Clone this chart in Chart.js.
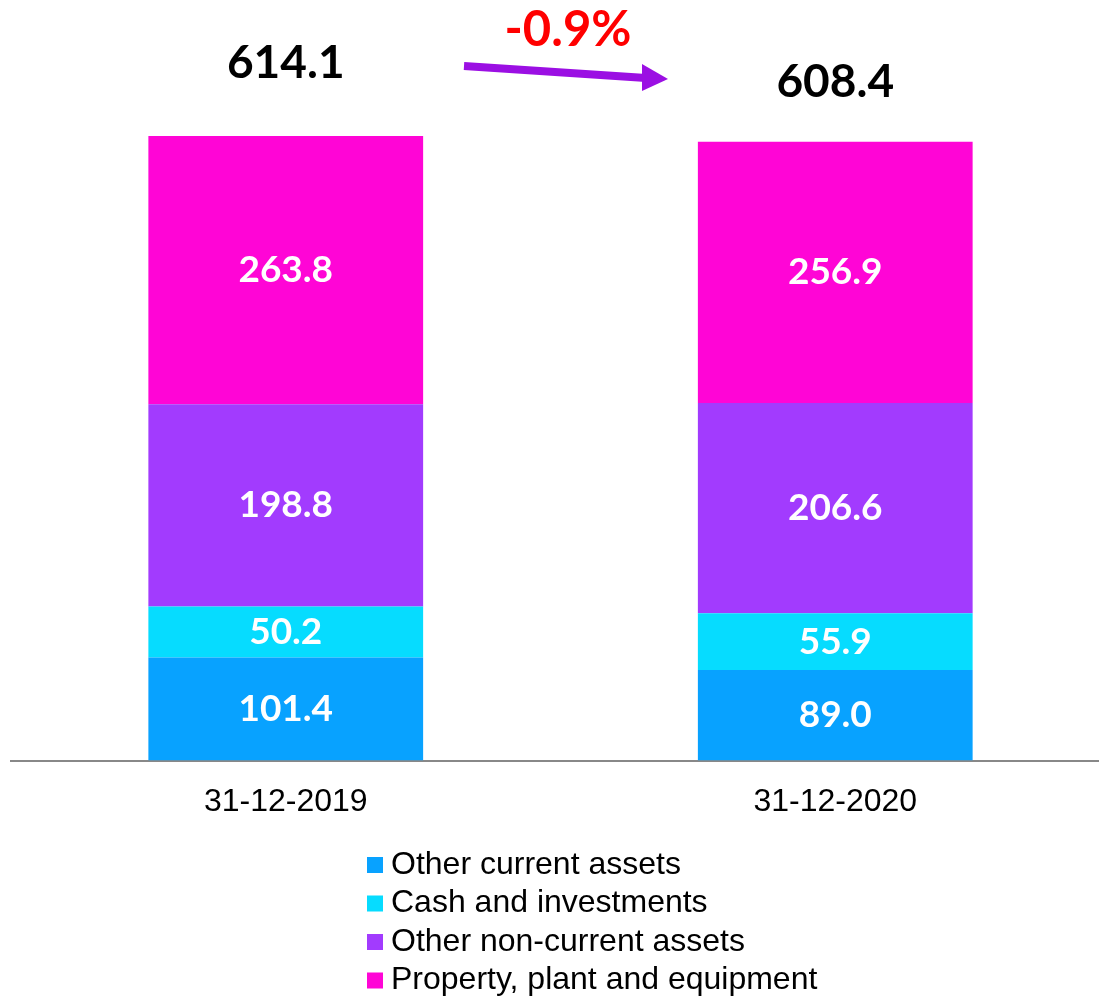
<!DOCTYPE html>
<html>
<head>
<meta charset="utf-8">
<script src="https://cdn.jsdelivr.net/npm/chart.js@4.4.1/dist/chart.umd.min.js"></script>
<style>
  html, body { margin: 0; padding: 0; background: #fff; overflow: hidden; }
  #wrap { width: 1110px; height: 997px; }
</style>
</head>
<body>
<div id="wrap"><canvas id="assets-chart" width="1110" height="997"></canvas></div>
<script>
const dates = ['31-12-2019', '31-12-2020'];
const otherCurrent = [101.4, 89.0];
const cashInvestments = [50.2, 55.9];
const otherNonCurrent = [198.8, 206.6];
const propertyPlant = [263.8, 256.9];
const totals = [614.1, 608.4];
const changeLabel = '-0.9%';

const seriesNames = ['Other current assets', 'Cash and investments', 'Other non-current assets', 'Property, plant and equipment'];
const seriesColors = ['#08A2FF', '#06DCFF', '#A23BFE', '#FF05D6'];

const numFont = 'Lato, "Noto Sans", sans-serif';

// white numbers in the middle of each segment
const segmentLabels = {
    id: 'segmentLabels',
    afterDatasetsDraw(chart) {
        const ctx = chart.ctx;
        ctx.save();
        ctx.fillStyle = '#fff';
        ctx.font = 'bold 37px ' + numFont;
        ctx.textAlign = 'center';
        ctx.textBaseline = 'middle';
        chart.data.datasets.forEach((ds, i) => {
            chart.getDatasetMeta(i).data.forEach((bar, j) => {
                ctx.fillText(ds.data[j].toFixed(1), bar.x, (bar.y + bar.base) / 2);
            });
        });
        ctx.restore();
    }
};

// totals above the bars, the change arrow and the legend
const extras = {
    id: 'extras',
    afterDraw(chart) {
        const ctx = chart.ctx;
        const x = chart.scales.x, y = chart.scales.y;
        const lift = [73, 60];
        ctx.save();
        ctx.textAlign = 'center';
        ctx.textBaseline = 'middle';
        ctx.fillStyle = '#000';
        ctx.font = 'bold 46px ' + numFont;
        totals.forEach((t, i) => {
            ctx.fillText(t.toFixed(1), x.getPixelForValue(i), y.getPixelForValue(t) - lift[i]);
        });

        ctx.fillStyle = '#FF0000';
        ctx.font = 'bold 49px ' + numFont;
        ctx.fillText(changeLabel, 568, 30);

        // arrow
        ctx.strokeStyle = '#9B0FE3';
        ctx.fillStyle = '#9B0FE3';
        ctx.lineWidth = 8;
        ctx.beginPath();
        ctx.moveTo(464, 66);
        ctx.lineTo(646, 78);
        ctx.stroke();
        ctx.beginPath();
        ctx.moveTo(668, 79);
        ctx.lineTo(642, 64);
        ctx.lineTo(642, 91);
        ctx.closePath();
        ctx.fill();

        // legend, one item per row
        ctx.textAlign = 'left';
        ctx.font = '32px "Liberation Sans", Arial, sans-serif';
        chart.data.datasets.forEach((ds, i) => {
            const cy = 865 + i * 38.5;
            ctx.fillStyle = ds.backgroundColor;
            ctx.fillRect(367, cy - 8, 16, 16);
            ctx.fillStyle = '#000';
            ctx.fillText(ds.label, 391, cy);
        });
        ctx.restore();
    }
};

const seriesData = [otherCurrent, cashInvestments, otherNonCurrent, propertyPlant];

new Chart(document.getElementById('assets-chart').getContext('2d'), {
    type: 'bar',
    data: {
        labels: dates,
        datasets: seriesData.map((d, i) => ({
            label: seriesNames[i],
            data: d,
            backgroundColor: seriesColors[i],
            categoryPercentage: 1,
            barPercentage: 0.5
        }))
    },
    options: {
        responsive: false,
        animation: false,
        layout: { padding: { top: 8, left: 11, right: 0, bottom: 154 } },
        plugins: {
            legend: { display: false },
            tooltip: { enabled: false }
        },
        scales: {
            x: {
                stacked: true,
                grid: { display: false, drawTicks: false },
                border: { display: true, color: '#888888', width: 2 },
                ticks: {
                    color: '#000',
                    padding: 22,
                    font: { family: '"Liberation Sans", Arial, sans-serif', size: 32 }
                }
            },
            y: {
                stacked: true,
                display: false,
                min: 0,
                max: 740
            }
        }
    },
    plugins: [segmentLabels, extras]
});
</script>
</body>
</html>
